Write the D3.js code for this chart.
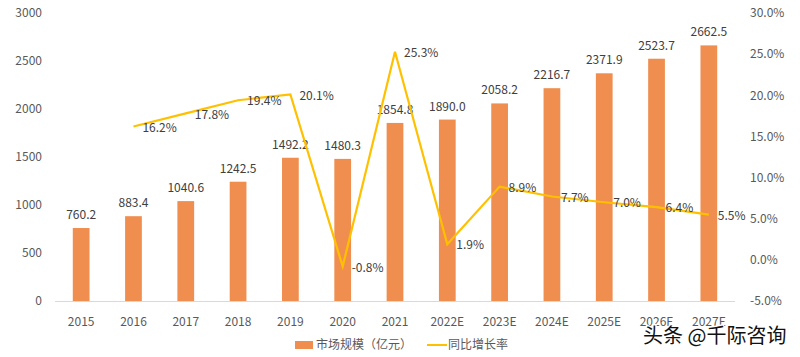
<!DOCTYPE html>
<html><head><meta charset="utf-8">
<script src="https://cdn.jsdelivr.net/npm/d3@7"></script>
<style>
html,body{margin:0;padding:0;background:#fff;}
svg{display:block;font-family:"Noto Sans CJK SC","Noto Sans",sans-serif;}
</style></head>
<body>
<svg id="chart" width="800" height="357"></svg>
<script>
const categories = ["2015","2016","2017","2018","2019","2020","2021","2022E","2023E","2024E","2025E","2026E","2027E"];
const marketSize = [760.2,883.4,1040.6,1242.5,1492.2,1480.3,1854.8,1890.0,2058.2,2216.7,2371.9,2523.7,2662.5];
const growthRate = [null,16.2,17.8,19.4,20.1,-0.8,25.3,1.9,8.9,7.7,7.0,6.4,5.5];
const leftTicks = [0,500,1000,1500,2000,2500,3000];
const rightTicks = [-5,0,5,10,15,20,25,30];
const seriesNames = ["市场规模（亿元）","同比增长率"];
const watermark = "头条 @千际咨询";

const svg = d3.select("#chart");
const x0 = 55, x1 = 735, yTop = 13, yBot = 301;
const barColor = "#EF8E4F", lineColor = "#FFC000";

const x = d3.scaleBand().domain(categories).range([x0, x1]).paddingInner(0.68).paddingOuter(0.34);
const yL = d3.scaleLinear().domain([0,3000]).range([yBot, yTop]);
const yR = d3.scaleLinear().domain([-5,30]).range([yBot, yTop]);

// left axis
const axL = svg.append("g").attr("transform",`translate(42,0)`)
  .call(d3.axisLeft(yL).tickValues(leftTicks).tickSize(0).tickPadding(0).tickFormat(d3.format("d")));
axL.select(".domain").remove();
axL.selectAll("text").attr("font-size",12).attr("fill","#595959").attr("font-family","Noto Sans CJK SC");

// right axis
const axR = svg.append("g").attr("transform",`translate(750,0)`)
  .call(d3.axisRight(yR).tickValues(rightTicks).tickSize(0).tickPadding(0).tickFormat(d=>d.toFixed(1)+"%"));
axR.select(".domain").remove();
axR.selectAll("text").attr("font-size",12).attr("fill","#595959").attr("font-family","Noto Sans CJK SC");

// baseline
svg.append("line").attr("x1",x0).attr("x2",x1).attr("y1",yL(0)+0.5).attr("y2",yL(0)+0.5)
  .attr("stroke","#d9d9d9").attr("stroke-width",1);

// bars
svg.append("g").selectAll("rect").data(categories).join("rect")
  .attr("x",d=>x(d)).attr("width",x.bandwidth())
  .attr("y",(d,i)=>yL(marketSize[i])).attr("height",(d,i)=>yL(0)-yL(marketSize[i]))
  .attr("fill",barColor);

// bar labels
svg.append("g").selectAll("text").data(categories).join("text")
  .attr("x",d=>x(d)+x.bandwidth()/2).attr("y",(d,i)=>yL(marketSize[i])-9)
  .attr("text-anchor","middle").attr("font-size",12).attr("fill","#404040")
  .text((d,i)=>marketSize[i].toFixed(1));

// x axis labels
const axB = svg.append("g").attr("transform",`translate(0,${yBot+21})`)
  .call(d3.axisBottom(x).tickSize(0).tickPadding(0));
axB.select(".domain").remove();
axB.selectAll("text").attr("font-size",12).attr("fill","#595959").attr("dy","0.35em").attr("font-family","Noto Sans CJK SC");

// line
const pts = categories.map((c,i)=>({c, v:growthRate[i]})).filter(p=>p.v!==null);
const line = d3.line().x(p=>x(p.c)+x.bandwidth()/2).y(p=>yR(p.v));
svg.append("path").datum(pts).attr("d",line).attr("fill","none")
  .attr("stroke",lineColor).attr("stroke-width",2.2).attr("stroke-linejoin","miter");

// line labels
svg.append("g").selectAll("text").data(pts).join("text")
  .attr("x",p=>x(p.c)+x.bandwidth()/2+9).attr("y",p=>yR(p.v)+1)
  .attr("dy","0.35em").attr("font-size",12).attr("fill","#404040")
  .text(p=>p.v.toFixed(1)+"%");

// legend
const lg = svg.append("g");
lg.append("rect").attr("x",295).attr("y",341).attr("width",18).attr("height",8).attr("fill",barColor);
lg.append("text").attr("x",316).attr("y",345).attr("dy","0.35em").attr("font-size",12).attr("fill","#595959").text(seriesNames[0]);
lg.append("line").attr("x1",427).attr("x2",447).attr("y1",345).attr("y2",345).attr("stroke",lineColor).attr("stroke-width",2);
lg.append("text").attr("x",448).attr("y",345).attr("dy","0.35em").attr("font-size",12).attr("fill","#595959").text(seriesNames[1]);

// watermark
svg.append("text").attr("x",643).attr("y",336).attr("dy","0.35em").attr("font-size",20)
  .attr("fill","#111").attr("stroke","#fff").attr("stroke-width",3).attr("paint-order","stroke")
  .text(watermark);
</script>
</body></html>
